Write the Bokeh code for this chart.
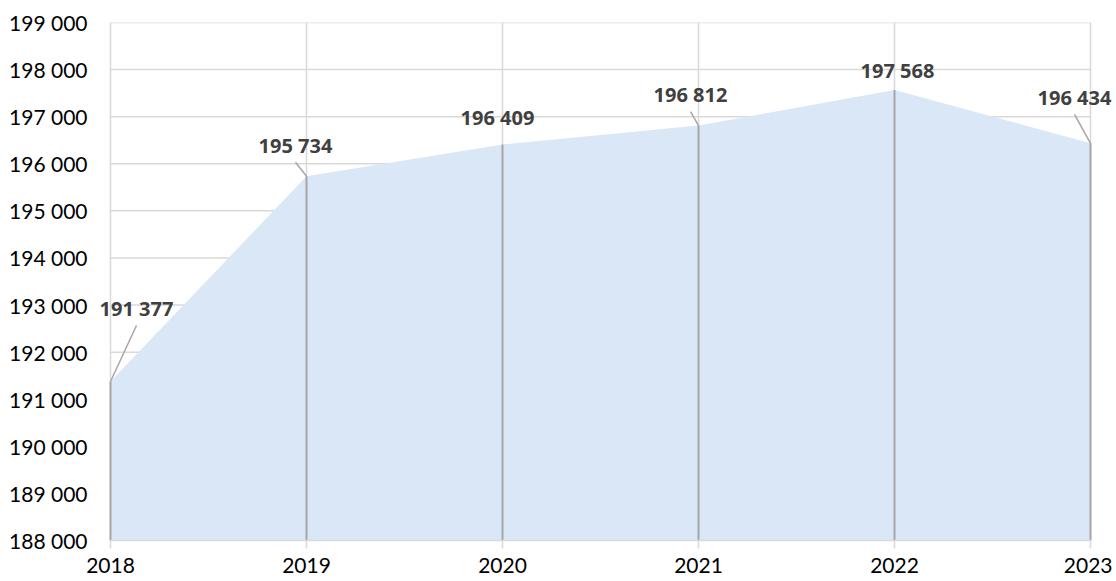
from bokeh.plotting import figure
from bokeh.models import Label, Range1d, FixedTicker, ColumnDataSource
from bokeh.embed import file_html
from bokeh.resources import INLINE

# ---- data ----
years = [2018, 2019, 2020, 2021, 2022, 2023]
values = [191377, 195734, 196409, 196812, 197568, 196434]
y_ticks = [188000, 189000, 190000, 191000, 192000, 193000, 194000,
           195000, 196000, 197000, 198000, 199000]
value_labels = [f"{v:,}".replace(",", " ") for v in values]

# ---- label placement (screen px, relative to the point; dy positive = up) ----
label_dx = [26, -11, -5, -8, 3, -16]
label_dy = [73, 31, 27, 31, 19, 46]
has_leader = [True, True, False, True, False, True]

Y0, Y1 = y_ticks[0], y_ticks[-1]
X0, X1 = years[0], years[-1]

DATA_W, FH = 980, 518
PAD_L, PAD_R = 14, 22          # extra frame room (px) so labels are not clipped
ppx = DATA_W / (X1 - X0)
ppy = FH / (Y1 - Y0)

p = figure(frame_width=DATA_W + PAD_L + PAD_R, frame_height=FH,
           output_backend="svg", toolbar_location=None,
           x_range=Range1d(X0 - PAD_L / ppx, X1 + PAD_R / ppx),
           y_range=Range1d(Y0, Y1),
           min_border_left=96, min_border_right=0,
           min_border_top=22, min_border_bottom=0,
           background_fill_color="white", border_fill_color="white")
p.outline_line_color = None

FONT = "Lato"
LFONT = "Noto Sans"
GRID = "#d9d9d9"

# grid: vertical via Grid, horizontal drawn between first and last year
p.xgrid.ticker = FixedTicker(ticks=years)
p.xgrid.grid_line_color = GRID
p.xgrid.grid_line_width = 1.5
p.ygrid.grid_line_color = None
p.segment(x0=[X0] * len(y_ticks), y0=y_ticks, x1=[X1] * len(y_ticks), y1=y_ticks,
          line_color=GRID, line_width=1.5)

# axes
p.xaxis.ticker = FixedTicker(ticks=years)
p.yaxis.ticker = FixedTicker(ticks=y_ticks)
p.yaxis.major_label_overrides = {t: f"{t:,}".replace(",", " ") for t in y_ticks}
p.xaxis.major_label_overrides = {y: str(y) for y in years}
for ax in (p.xaxis, p.yaxis):
    ax.major_label_text_font = FONT
    ax.major_label_text_font_size = "21px"
    ax.major_label_text_color = "#000000"
    ax.minor_tick_line_color = None
    ax.major_tick_in = 0
p.yaxis.axis_line_color = None
p.yaxis.major_tick_line_color = None
p.yaxis.major_tick_out = 0
p.yaxis.major_label_standoff = 9
p.xaxis.bounds = (X0, X1)
p.xaxis.axis_line_color = GRID
p.xaxis.axis_line_width = 1.5
p.xaxis.major_tick_line_color = GRID
p.xaxis.major_tick_line_width = 1.5
p.xaxis.major_tick_out = 8
p.xaxis.major_label_standoff = 9

# area
src = ColumnDataSource(dict(x=years, y=values, base=[Y0] * len(years)))
p.varea(x="x", y1="base", y2="y", source=src, fill_color="#dae7f6", fill_alpha=1.0)

# drop lines
p.segment(x0="x", y0="base", x1="x", y1="y", source=src,
          line_color="#a6a6a6", line_width=2)

# leader lines (px offsets converted to data units)
lx0, ly0, lx1, ly1 = [], [], [], []
for x, v, dx, dy, lead in zip(years, values, label_dx, label_dy, has_leader):
    if lead:
        lx0.append(x + dx / ppx)
        ly0.append(v + (dy - 17) / ppy)
        lx1.append(x)
        ly1.append(v)
p.segment(x0=lx0, y0=ly0, x1=lx1, y1=ly1, line_color="#a6a6a6", line_width=1.5)

for x, v, t, dx, dy in zip(years, values, value_labels, label_dx, label_dy):
    p.add_layout(Label(x=x, y=v, text=t, x_offset=dx, y_offset=dy,
                       text_font=LFONT, text_font_size="20px", text_font_style="bold",
                       text_color="#404040", text_align="center",
                       text_baseline="middle"))

open("out.html", "w").write(file_html(p, INLINE))
